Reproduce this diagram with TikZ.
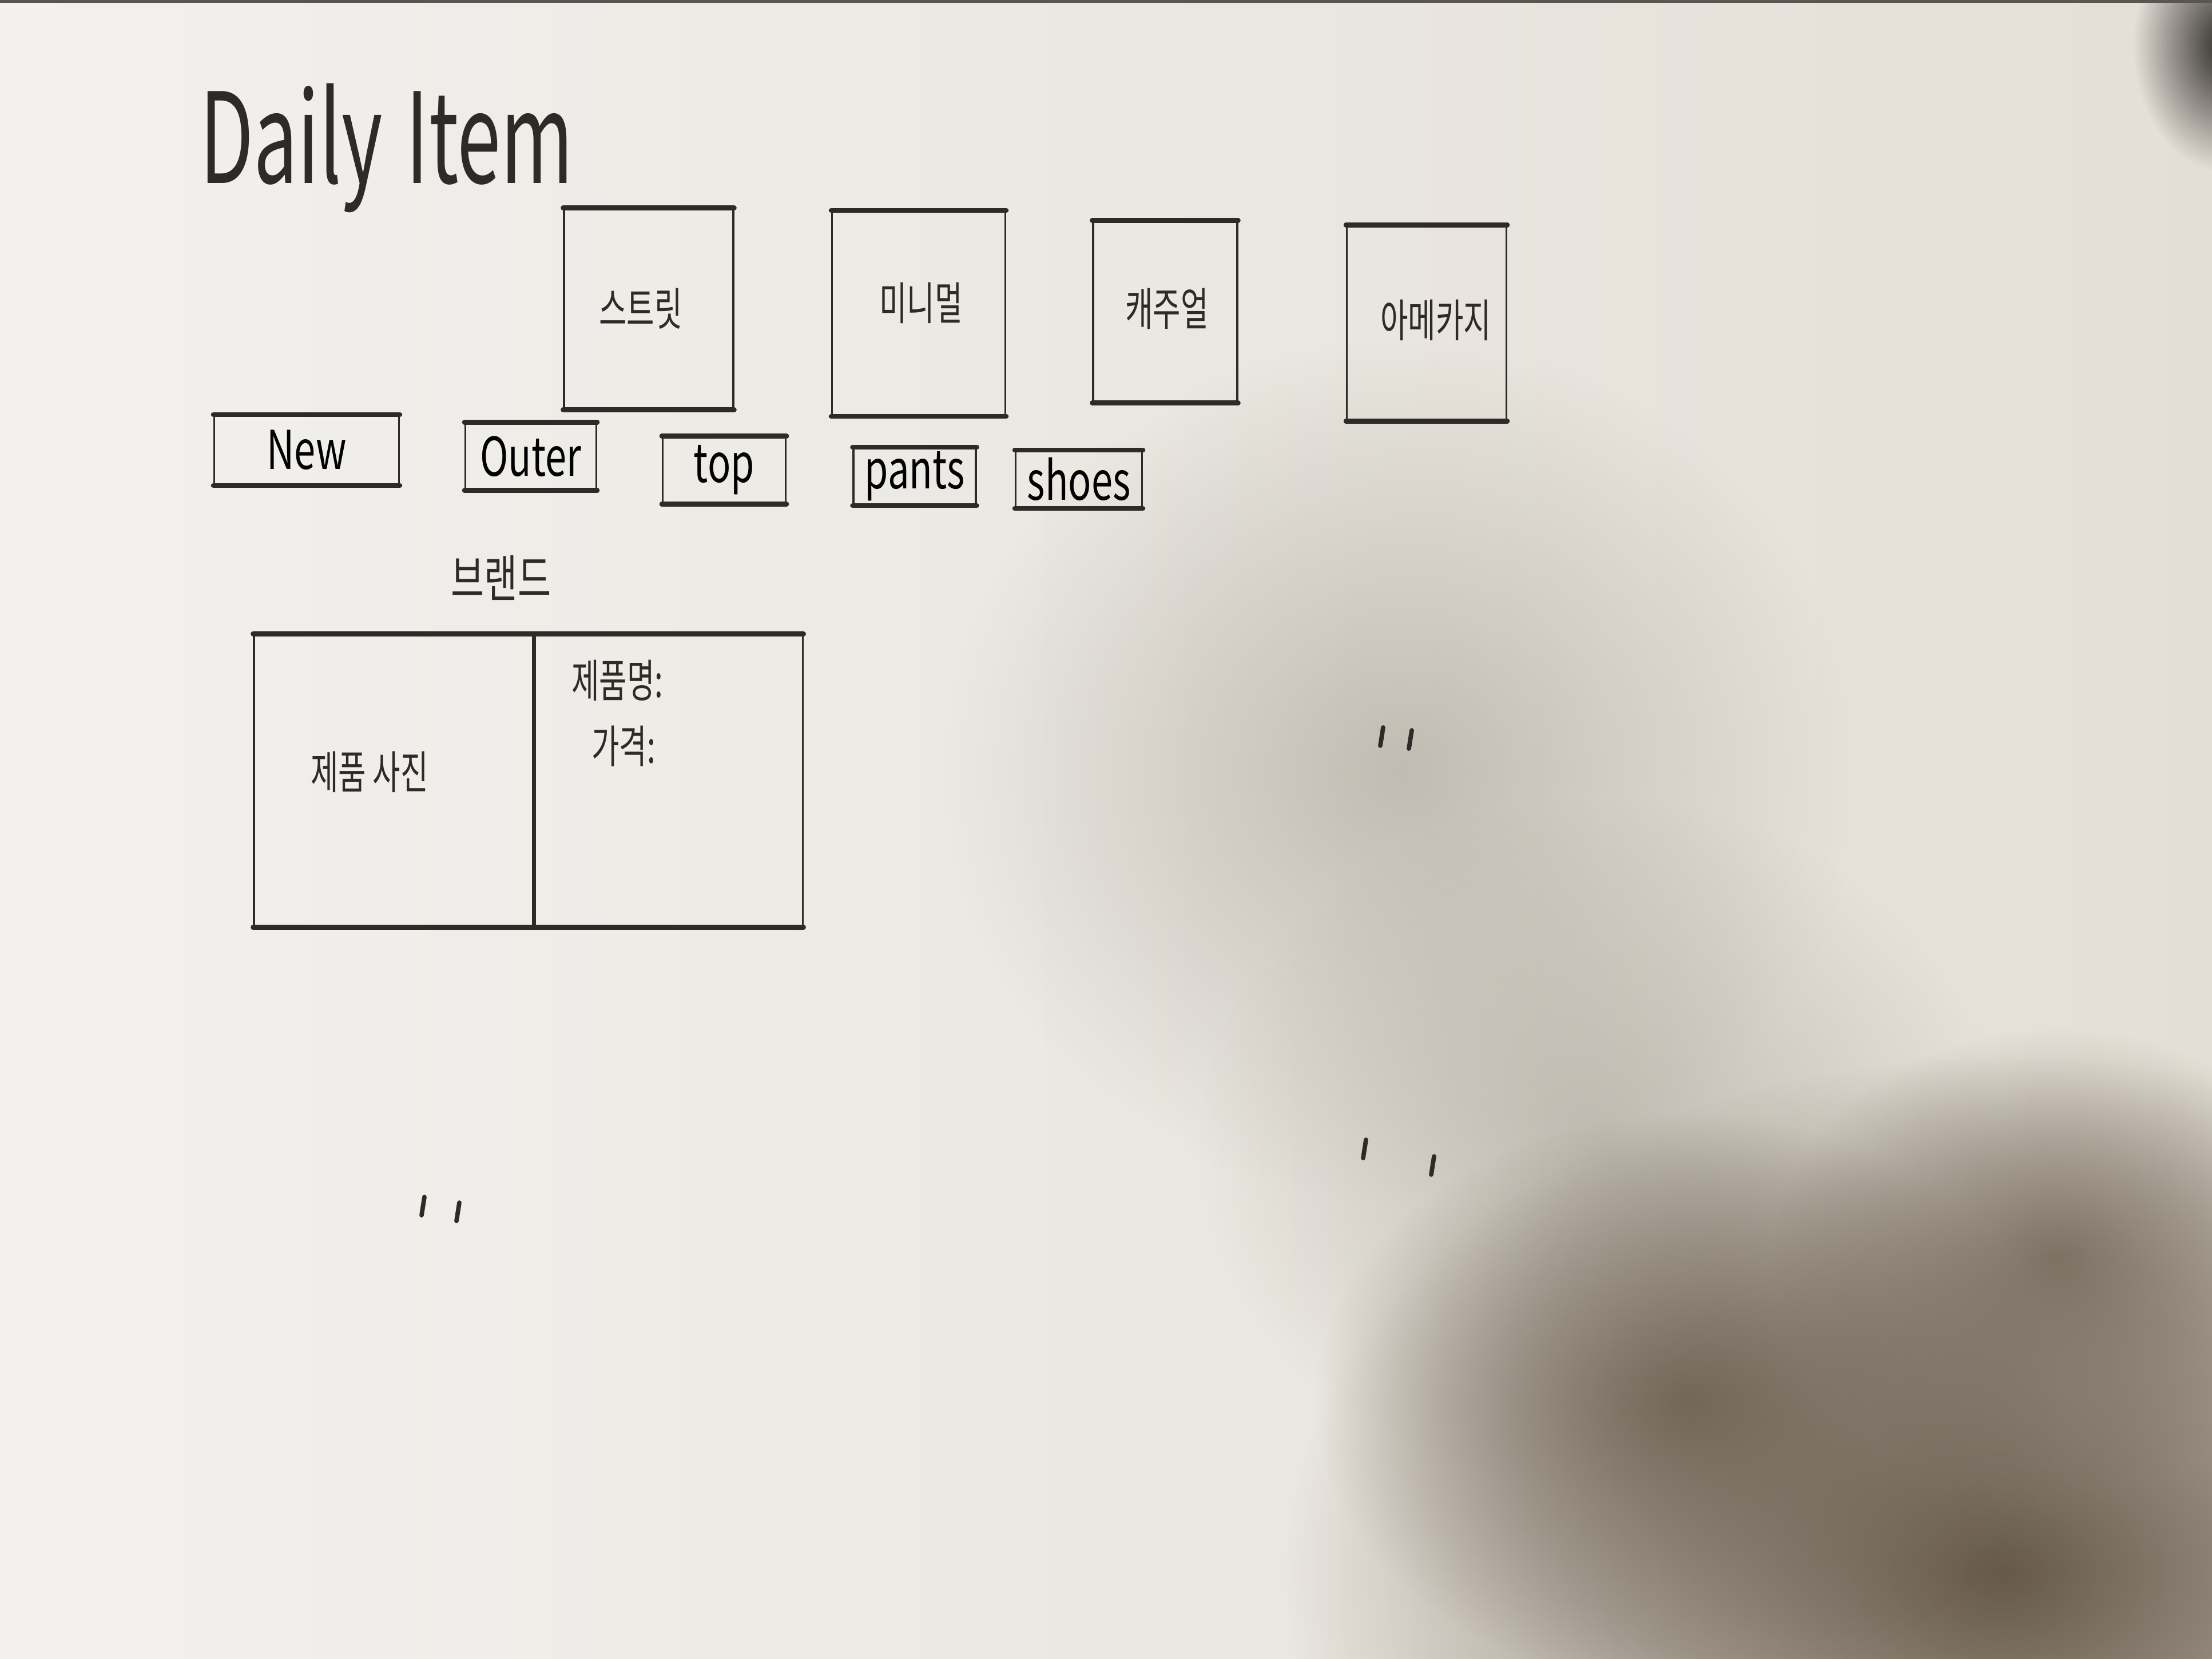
\documentclass[tikz,border=0pt]{standalone}
\usepackage{fontspec}
\setmainfont{Noto Sans CJK KR}
\usepackage{tikz}
\usetikzlibrary{fadings}
\definecolor{paper}{HTML}{F2F1EE}
\definecolor{paperwarm}{HTML}{E4DFD6}
\definecolor{shadowgray}{HTML}{A09A8E}
\definecolor{shadowbrown}{HTML}{66594A}
\definecolor{pencil}{HTML}{2E2A27}
\tikzfading[name=softspot,inner color=transparent!0,outer color=transparent!100]
\tikzstyle{card} = [draw=pencil,line width=0.9pt,inner sep=0pt]
\tikzstyle{heavy} = [draw=pencil,line width=2.4pt,line cap=round]
\tikzstyle{ditto} = [draw=pencil,line width=2.2pt,line cap=round]
\tikzstyle{hand} = [text=pencil,inner sep=1pt,font=\fontsize{15}{18}\selectfont]
\newcommand\tall[2][1.5]{\scalebox{1}[#1]{#2}}

\begin{document}
\begin{tikzpicture}
	\useasboundingbox (0,0) rectangle (38.67,-29);
	\shade[left color=paper,right color=paperwarm] (0,0) rectangle (38.67,-29);
	\fill[shadowgray,opacity=0.55,path fading=softspot] (24.5,-13.5) ellipse (8 and 7.5);
	\fill[shadowgray,opacity=0.55,path fading=softspot] (28,-20) ellipse (7 and 6);
	\fill[shadowbrown,opacity=1,path fading=softspot] (35,-27.5) ellipse (12.5 and 9);
	\fill[shadowbrown,opacity=0.8,path fading=softspot] (29.5,-24.5) ellipse (6.5 and 5);
	\fill[shadowbrown,opacity=0.7,path fading=softspot] (36,-22) ellipse (5 and 4);
	\fill[pencil,path fading=softspot] (38.9,-0.8) ellipse (1.6 and 2.2);
	\fill[pencil!80] (0,0) rectangle (38.67,-0.05);

	\node[hand,anchor=base west] (title) at (3.45,-3.2) {\fontsize{39}{44}\selectfont\tall[1.6]{Daily\hspace{0.3em}Item}};

	\node[card,minimum width=2.96cm,minimum height=3.5cm] (street) at (11.34,-5.40) {};
	\node[card,minimum width=3.03cm,minimum height=3.57cm] (minimal) at (16.06,-5.48) {};
	\node[card,minimum width=2.52cm,minimum height=3.16cm] (casual) at (20.37,-5.45) {};
	\node[card,minimum width=2.79cm,minimum height=3.40cm] (amekaji) at (24.94,-5.65) {};
	\node[hand] (streettext) at (11.2,-5.4) {\tall{스트릿}};
	\node[hand] (minimaltext) at (16.1,-5.3) {\tall{미니멀}};
	\node[hand] (casualtext) at (20.4,-5.4) {\tall{캐주얼}};
	\node[hand] (amekajitext) at (25.1,-5.6) {\tall{아메카지}};
	\foreach \b in {street,minimal,casual,amekaji}{
		\draw[heavy] (\b.north west) -- (\b.north east);
		\draw[heavy] (\b.south west) -- (\b.south east);
	}

	\node[card,minimum width=3.23cm,minimum height=1.21cm] (new) at (5.36,-7.87) {\fontsize{19}{22}\selectfont\tall[1.4]{New}};
	\node[card,minimum width=2.29cm,minimum height=1.16cm] (outer) at (9.28,-7.98) {\fontsize{19}{22}\selectfont\tall[1.4]{Outer}};
	\node[card,minimum width=2.15cm,minimum height=1.16cm] (top) at (12.66,-8.22) {\fontsize{19}{22}\selectfont\tall[1.4]{top}};
	\node[card,minimum width=2.14cm,minimum height=0.99cm] (pants) at (15.99,-8.33) {\fontsize{19}{22}\selectfont\tall[1.4]{pants}};
	\node[card,minimum width=2.21cm,minimum height=0.99cm] (shoes) at (18.86,-8.38) {\fontsize{19}{22}\selectfont\tall[1.4]{shoes}};
	\foreach \b in {new,outer,top,pants,shoes}{
		\draw[heavy] (\b.north west) -- (\b.north east);
		\draw[heavy] (\b.south west) -- (\b.south east);
	}

	\node[hand] (brand) at (8.76,-10.10) {\fontsize{18}{20}\selectfont\tall[1.4]{브랜드}};
	\node[card,minimum width=4.88cm,minimum height=5.1cm] (photo) at (6.88,-13.65) {};
	\node[card,minimum width=4.68cm,minimum height=5.1cm,anchor=west] (info) at (photo.east) {};
	\node[hand] (phototext) at (6.46,-13.5) {\tall{제품 사진}};
	\node[hand,anchor=west] (name) at (9.95,-11.9) {\tall{제품명:}};
	\node[hand,anchor=west] (price) at (10.3,-13.05) {\tall{가격:}};
	\draw[heavy] (photo.north west) -- (info.north east);
	\draw[heavy] (photo.south west) -- (info.south east);

	\foreach \x/\y in {24.18/-12.72,24.68/-12.77,7.42/-20.93,8.03/-21.03,23.88/-19.93,25.07/-20.22}
		\draw[ditto] (\x,\y) -- ++(-0.05,-0.32);
\end{tikzpicture}
\end{document}
